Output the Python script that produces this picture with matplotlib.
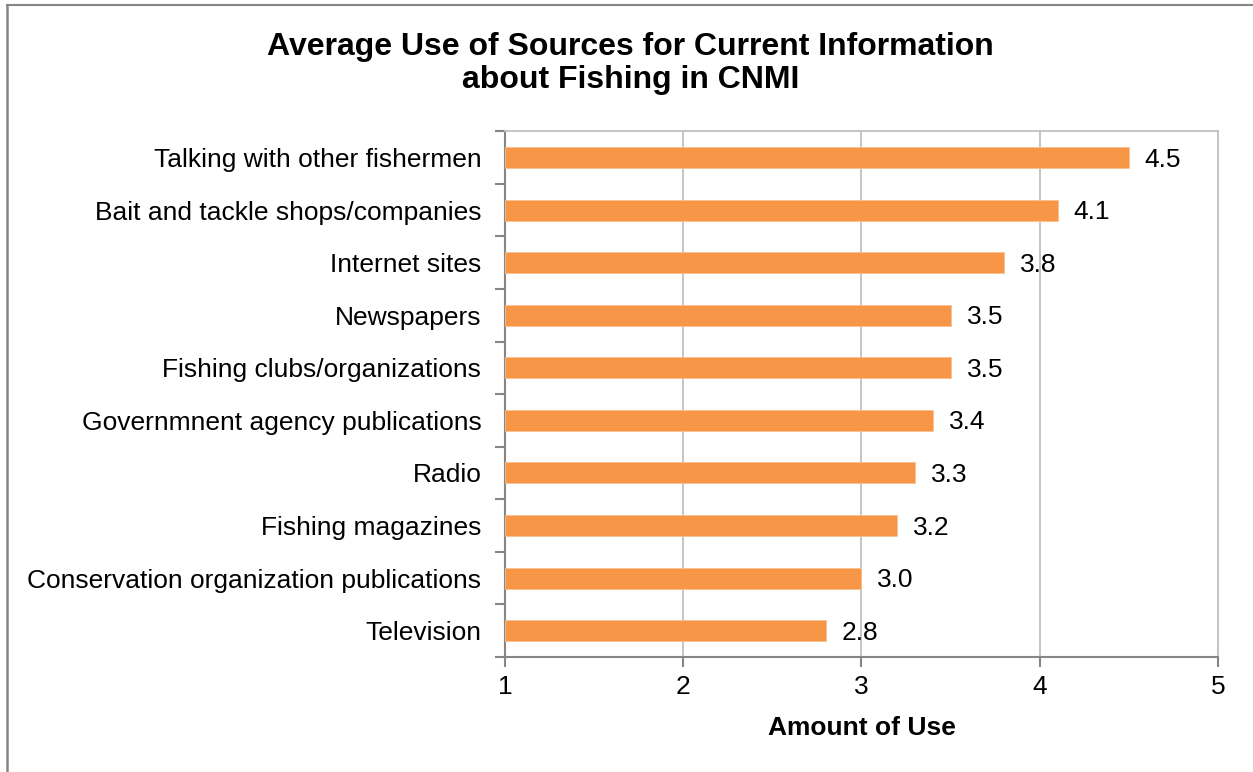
import matplotlib
matplotlib.use("Agg")
import matplotlib.pyplot as plt
from matplotlib.lines import Line2D

plt.rcParams["font.family"] = ["Liberation Sans", "DejaVu Sans"]

# data (top to bottom)
sources = [
    "Talking with other fishermen",
    "Bait and tackle shops/companies",
    "Internet sites",
    "Newspapers",
    "Fishing clubs/organizations",
    "Governmnent agency publications",
    "Radio",
    "Fishing magazines",
    "Conservation organization publications",
    "Television",
]
avg_use = [4.5, 4.1, 3.8, 3.5, 3.5, 3.4, 3.3, 3.2, 3.0, 2.8]
x_ticks = [1, 2, 3, 4, 5]

fig = plt.figure(figsize=(12.53, 7.72), dpi=100)
ax = fig.add_axes([0.403, 0.149, 0.569, 0.681])

ypos = list(range(len(sources)))
ax.barh(ypos, [v - 1 for v in avg_use], left=1, height=0.4, color="#F79646",
        edgecolor="#FBC08F", linewidth=0.6, zorder=3)

for y, v in zip(ypos, avg_use):
    ax.text(v + 0.09, y + 0.04, "%.1f" % v, va="center", ha="left", fontsize=19, zorder=4)

ax.set_xlim(1, 5)
ax.set_ylim(len(sources) - 0.5, -0.5)
ax.set_xticks(x_ticks)
ax.set_xticklabels([str(t) for t in x_ticks], fontsize=19)
ax.set_yticks(ypos)
ax.set_yticklabels(sources, fontsize=19)
ax.tick_params(axis="y", length=0, pad=17)
ax.tick_params(axis="x", length=7, color="#868686", width=1.5, pad=6)

# category boundary ticks on the y axis
ax.set_yticks([i - 0.5 for i in range(len(sources) + 1)], minor=True)
ax.tick_params(axis="y", which="minor", length=7, color="#868686", width=1.5)

ax.grid(axis="x", color="#C0C0C0", linewidth=1.3, zorder=0)
ax.spines["left"].set_color("#868686")
ax.spines["left"].set_linewidth(1.5)
ax.spines["bottom"].set_color("#868686")
ax.spines["bottom"].set_linewidth(1.5)
ax.spines["top"].set_color("#C0C0C0")
ax.spines["right"].set_color("#C0C0C0")
ax.spines["top"].set_linewidth(1.3)
ax.spines["right"].set_linewidth(1.3)

ax.set_xlabel("Amount of Use", fontsize=19, fontweight="bold", labelpad=12)

fig.text(0.503, 0.918, "Average Use of Sources for Current Information\nabout Fishing in CNMI",
         ha="center", va="center", fontsize=23, fontweight="bold", linespacing=1.12)

# outer frame: only top and left edges visible
fig.add_artist(Line2D([0.0053, 1.0], [0.9935, 0.9935], transform=fig.transFigure,
                      color="#868686", linewidth=1.5))
fig.add_artist(Line2D([0.0053, 0.0053], [0.0, 0.9935], transform=fig.transFigure,
                      color="#868686", linewidth=1.8))

fig.savefig("out.png", dpi=100)
